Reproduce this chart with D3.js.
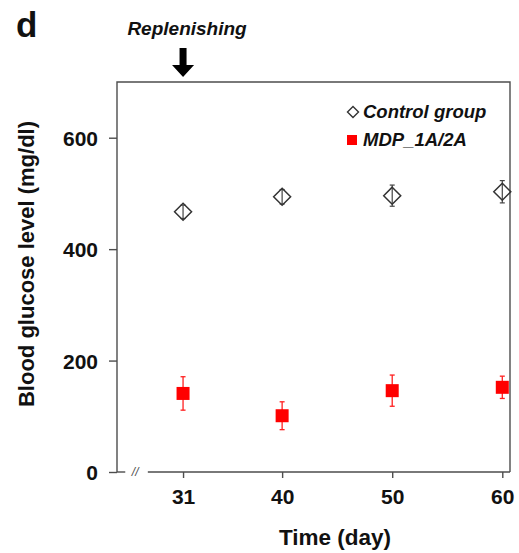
<!DOCTYPE html>
<html><head><meta charset="utf-8">
<script src="https://cdn.jsdelivr.net/npm/d3@7/dist/d3.min.js"></script>
<style>
html,body{margin:0;padding:0;background:#fff;}
text{font-family:"Liberation Sans",Arial,sans-serif;}
</style></head>
<body><svg id="c" width="519" height="553"></svg>
<script>
const days = [31, 40, 50, 60];
const controlMean = [467, 494, 496, 503];
const controlErr = [12, 13, 19, 20];
const mdpMean = [141, 101, 146, 152];
const mdpErr = [30, 25, 28, 20];
const xTicks = [31, 40, 50, 60];
const yTicks = [0, 200, 400, 600];
const seriesNames = ["Control group", "MDP_1A/2A"];

const svg = d3.select("#c");
const m = {l:117, t:82, r:9, b:81};
const W = 519 - m.l - m.r, H = 553 - m.t - m.b;
const x = d3.scaleLinear().domain([25, 60.7]).range([0, W]);
const y = d3.scaleLinear().domain([0, 700]).range([H, 0]);
const g = svg.append("g").attr("transform",`translate(${m.l},${m.t})`);
const ax = "#4d4d4d";

// frame: left, top, right
g.append("path").attr("d",`M0,${H}V0H${W}V${H}`).attr("fill","none").attr("stroke",ax).attr("stroke-width",1.4);
// bottom axis with break
g.append("line").attr("x1",0).attr("x2",x(25.75)).attr("y1",H).attr("y2",H).attr("stroke",ax).attr("stroke-width",1.4);
g.append("line").attr("x1",x(27.8)).attr("x2",W).attr("y1",H).attr("y2",H).attr("stroke",ax).attr("stroke-width",1.4);
g.append("text").attr("x",x(26.65)).attr("y",H+4).attr("text-anchor","middle")
  .attr("font-size",12).attr("font-style","italic").attr("fill",ax).text("//");

// x axis
const xa = g.append("g").attr("transform",`translate(0,${H})`)
  .call(d3.axisBottom(x).tickValues(xTicks).tickSize(6).tickPadding(11).tickFormat(d3.format("d")));
xa.select(".domain").remove();
xa.selectAll("line").attr("stroke",ax).attr("stroke-width",1.4);
xa.selectAll("text").attr("font-size",21).attr("font-weight","bold").attr("fill","#111");

// y axis
const ya = g.append("g")
  .call(d3.axisLeft(y).tickValues(yTicks).tickSize(8).tickPadding(11));
ya.select(".domain").remove();
ya.selectAll("line").attr("stroke",ax).attr("stroke-width",1.4);
ya.selectAll("text").attr("font-size",21).attr("font-weight","bold").attr("fill","#111").attr("dy","0.36em");

// titles
svg.append("text").attr("x",335).attr("y",545).attr("text-anchor","middle")
  .attr("font-size",22.5).attr("font-weight","bold").attr("fill","#111").text("Time (day)");
svg.append("text").attr("transform","translate(34,264) rotate(-90)").attr("text-anchor","middle")
  .attr("font-size",22).attr("font-weight","bold").attr("fill","#111").text("Blood glucose level (mg/dl)");
svg.append("text").attr("x",16).attr("y",37).attr("font-size",35).attr("font-weight","bold").attr("fill","#111").text("d");

// Replenishing annotation
const ax31 = m.l + x(31);
svg.append("text").attr("x",ax31+4).attr("y",35).attr("text-anchor","middle")
  .attr("font-size",19).attr("font-weight","bold").attr("font-style","italic").attr("fill","#111").text("Replenishing");
svg.append("path").attr("d",`M${ax31-3.5},48H${ax31+3.5}V65H${ax31+11}L${ax31},77L${ax31-11},65H${ax31-3.5}Z`).attr("fill","#000");

// error bars helper
function errBars(mean, err, col, w){
  const e = g.append("g").attr("stroke",col).attr("stroke-width",w);
  days.forEach((d,i)=>{
    const cx = x(d), y1 = y(mean[i]+err[i]), y2 = y(mean[i]-err[i]);
    e.append("line").attr("x1",cx).attr("x2",cx).attr("y1",y1).attr("y2",y2);
    e.append("line").attr("x1",cx-2.5).attr("x2",cx+2.5).attr("y1",y1).attr("y2",y1);
    e.append("line").attr("x1",cx-2.5).attr("x2",cx+2.5).attr("y1",y2).attr("y2",y2);
  });
}
errBars(controlMean, controlErr, "#444", 1.2);
errBars(mdpMean, mdpErr, "#ff2020", 1.3);

const dia = s => `M0,${-s}L${s},0L0,${s}L${-s},0Z`;
g.selectAll(".ctl").data(days).enter().append("path")
  .attr("transform",(d,i)=>`translate(${x(d)},${y(controlMean[i])})`)
  .attr("d",dia(8.5)).attr("fill","none").attr("stroke","#333").attr("stroke-width",1.5);
g.selectAll(".mdp").data(days).enter().append("rect")
  .attr("x",d=>x(d)-6.5).attr("y",(d,i)=>y(mdpMean[i])-6.5).attr("width",13).attr("height",13).attr("fill","#ff0000");

// legend
svg.append("path").attr("transform","translate(353,112)").attr("d",dia(5.5)).attr("fill","none").attr("stroke","#333").attr("stroke-width",1.4);
svg.append("rect").attr("x",347).attr("y",135).attr("width",10).attr("height",10).attr("fill","#ff0000");
svg.append("text").attr("x",363).attr("y",118).attr("font-size",18.5).attr("font-weight","bold").attr("font-style","italic").attr("fill","#111").text(seriesNames[0]);
svg.append("text").attr("x",363).attr("y",146).attr("font-size",18.5).attr("font-weight","bold").attr("font-style","italic").attr("fill","#111").text(seriesNames[1]);
</script></body></html>
